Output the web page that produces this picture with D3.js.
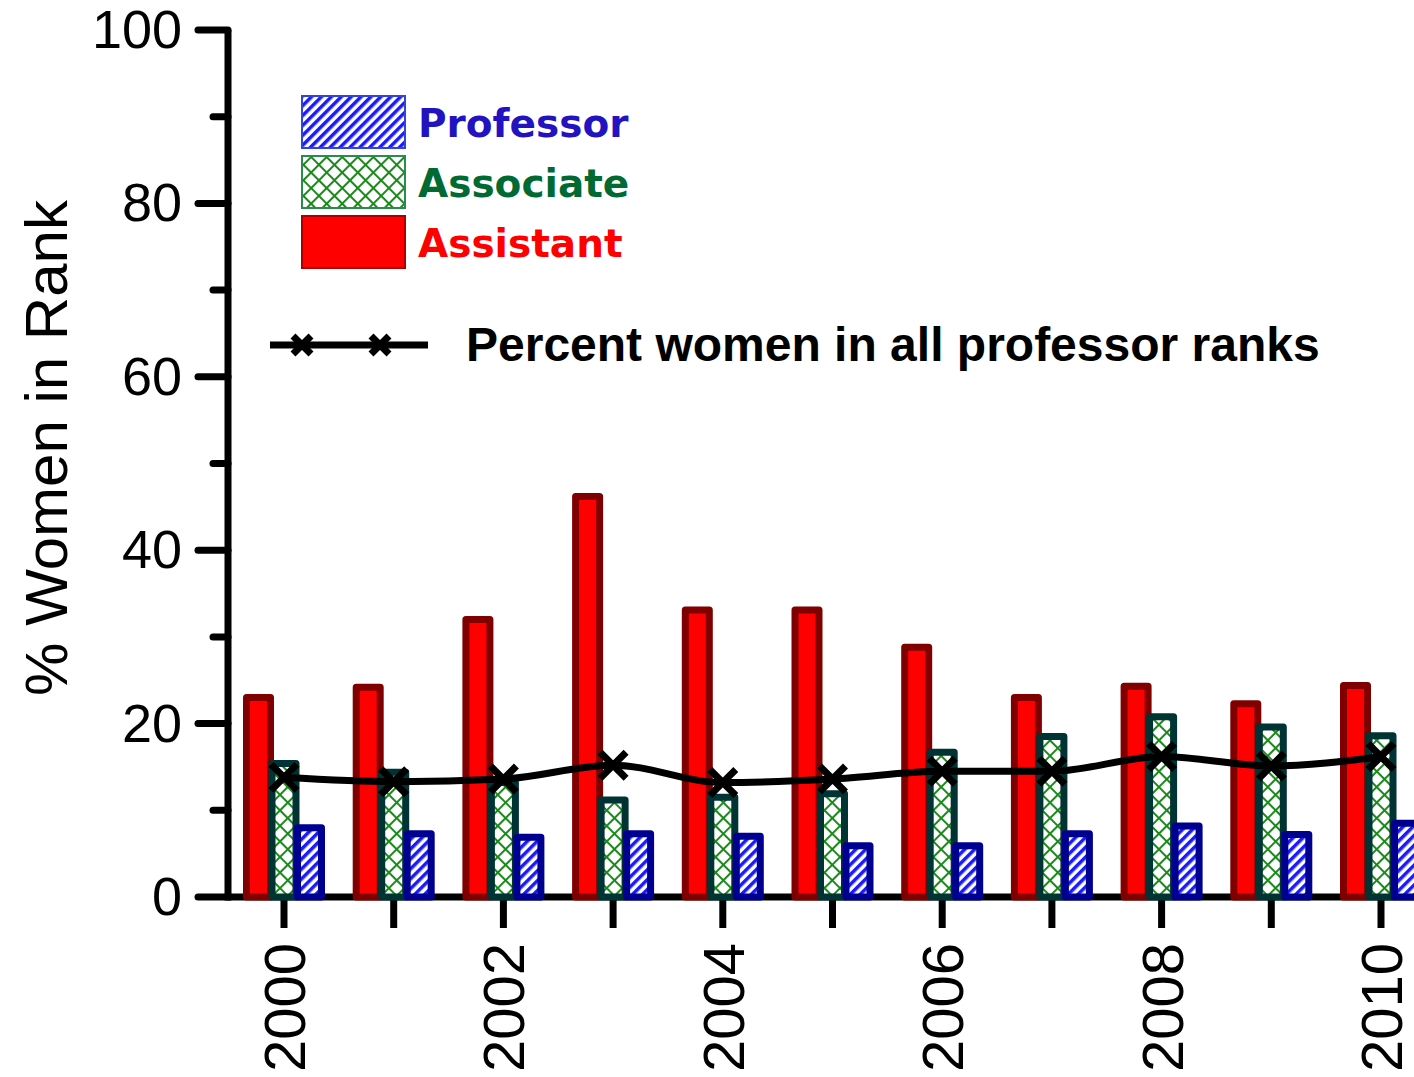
<!DOCTYPE html>
<html>
<head>
<meta charset="utf-8">
<script src="https://cdn.jsdelivr.net/npm/d3@7"></script>
<style>
  html, body { margin: 0; padding: 0; background: #fff; }
  svg { display: block; }
</style>
</head>
<body>
<svg id="chart"></svg>
<script>
// data
const years = [2000, 2001, 2002, 2003, 2004, 2005, 2006, 2007, 2008, 2009, 2010]
const assistant = [23.0, 24.2, 32.0, 46.2, 33.1, 33.1, 28.8, 23.0, 24.3, 22.3, 24.4]
const associate = [15.4, 14.4, 13.2, 11.2, 11.5, 11.9, 16.7, 18.5, 20.8, 19.6, 18.6]
const professor = [8.0, 7.3, 6.9, 7.3, 7.0, 5.9, 5.9, 7.3, 8.2, 7.2, 8.5]
const allRanks = [13.8, 13.3, 13.6, 15.2, 13.2, 13.6, 14.5, 14.5, 16.2, 15.1, 16.2]
const yTicks = [0, 20, 40, 60, 80, 100]
const yMinor = [10, 30, 50, 70, 90]
const xLabelYears = [2000, 2002, 2004, 2006, 2008, 2010]
const legendNames = ["Professor", "Associate", "Assistant"]

const width = 1414
const height = 1077

const svg = d3.select("#chart")
    .attr("width", width)
    .attr("height", height)

const x = d3.scaleLinear().domain([2000, 2010]).range([284, 1381])
const y = d3.scaleLinear().domain([0, 100]).range([897, 30])

// patterns
const defs = svg.append("defs")
const hatch = defs.append("pattern")
    .attr("id", "hatch")
    .attr("patternUnits", "userSpaceOnUse")
    .attr("width", 7).attr("height", 7)
    .attr("patternTransform", "rotate(45)")
hatch.append("rect").attr("width", 7).attr("height", 7).attr("fill", "#fff")
hatch.append("rect").attr("width", 3.5).attr("height", 7).attr("fill", "#1a1aff")

const cross = defs.append("pattern")
    .attr("id", "cross")
    .attr("patternUnits", "userSpaceOnUse")
    .attr("width", 11).attr("height", 11)
    .attr("patternTransform", "rotate(45)")
cross.append("rect").attr("width", 11).attr("height", 11).attr("fill", "#fff")
cross.append("rect").attr("width", 2).attr("height", 11).attr("fill", "#1a8a1a")
cross.append("rect").attr("width", 11).attr("height", 2).attr("fill", "#1a8a1a")

const series = [
    { name: "Assistant", values: assistant, fill: "#ff0000", stroke: "#800000", off: -25.5 },
    { name: "Associate", values: associate, fill: "url(#cross)", stroke: "#003333", off: 0 },
    { name: "Professor", values: professor, fill: "url(#hatch)", stroke: "#000090", off: 25.5 }
]
const barW = 24

// x axis line (behind bars)
svg.append("line")
    .attr("x1", x(2000) - 56).attr("x2", width + 10)
    .attr("y1", y(0)).attr("y2", y(0))
    .attr("stroke", "#000").attr("stroke-width", 7)

// x ticks
svg.append("g").selectAll("line").data(years).join("line")
    .attr("x1", d => x(d)).attr("x2", d => x(d))
    .attr("y1", y(0)).attr("y2", y(0) + 31)
    .attr("stroke", "#000").attr("stroke-width", 7)

// x labels
svg.append("g").selectAll("text").data(xLabelYears).join("text")
    .attr("transform", d => `translate(${x(d) + 21}, 943) rotate(-90)`)
    .attr("text-anchor", "end")
    .attr("font-family", "Liberation Sans, Arial, sans-serif")
    .attr("font-size", 58)
    .text(d => d)

// bars
series.forEach(s => {
    svg.append("g").selectAll("rect").data(years).join("rect")
        .attr("x", d => x(d) + s.off - barW / 2)
        .attr("width", barW)
        .attr("y", (d, i) => y(s.values[i]))
        .attr("height", (d, i) => y(0) - y(s.values[i]))
        .attr("fill", s.fill)
        .attr("stroke", s.stroke)
        .attr("stroke-width", 7)
        .attr("stroke-linejoin", "round")
})

// y axis
svg.append("line")
    .attr("x1", 228).attr("x2", 228)
    .attr("y1", y(100)).attr("y2", y(0) + 3.5)
    .attr("stroke", "#000").attr("stroke-width", 7)
svg.append("g").selectAll("line").data(yTicks).join("line")
    .attr("x1", 198).attr("x2", 228)
    .attr("y1", d => y(d)).attr("y2", d => y(d))
    .attr("stroke", "#000").attr("stroke-width", 7).attr("stroke-linecap", "round")
svg.append("g").selectAll("line").data(yMinor).join("line")
    .attr("x1", 213).attr("x2", 228)
    .attr("y1", d => y(d)).attr("y2", d => y(d))
    .attr("stroke", "#000").attr("stroke-width", 7).attr("stroke-linecap", "round")
svg.append("g").selectAll("text").data(yTicks).join("text")
    .attr("x", 182).attr("y", d => y(d) + 18)
    .attr("text-anchor", "end")
    .attr("font-family", "Liberation Sans, Arial, sans-serif")
    .attr("font-size", 54)
    .text(d => d)

// y axis title
svg.append("text")
    .attr("transform", `translate(67, 448) rotate(-90)`)
    .attr("text-anchor", "middle")
    .attr("font-family", "Liberation Sans, Arial, sans-serif")
    .attr("font-size", 60)
    .text("% Women in Rank")

// all-ranks line
const line = d3.line()
    .x((d, i) => x(years[i]))
    .y(d => y(d))
    .curve(d3.curveMonotoneX)
svg.append("path")
    .datum(allRanks)
    .attr("d", line)
    .attr("fill", "none")
    .attr("stroke", "#000")
    .attr("stroke-width", 7)

const cross_mark = (g, cx, cy, r, w) => {
    g.append("path")
        .attr("d", `M${cx - r},${cy - r}L${cx + r},${cy + r}M${cx - r},${cy + r}L${cx + r},${cy - r}`)
        .attr("stroke", "#000").attr("stroke-width", w)
}
const marks = svg.append("g")
allRanks.forEach((v, i) => cross_mark(marks, x(years[i]), y(v), 13, 7))

// legend
const legColors = ["#2212c0", "#006a33", "#ff0000"]
const legFills = ["url(#hatch)", "url(#cross)", "#ff0000"]
const legStrokes = ["#3344dd", "#2a8a50", "#aa0000"]
const leg = svg.append("g")
legendNames.forEach((n, i) => {
    leg.append("rect")
        .attr("x", 302).attr("y", 96 + i * 60)
        .attr("width", 103).attr("height", 52)
        .attr("fill", legFills[i])
        .attr("stroke", legStrokes[i]).attr("stroke-width", 2)
    leg.append("text")
        .attr("x", 418).attr("y", 137 + i * 60)
        .attr("font-family", "DejaVu Sans, Verdana, sans-serif")
        .attr("font-weight", "bold")
        .attr("font-size", 39)
        .attr("fill", legColors[i])
        .text(n)
})

leg.append("line")
    .attr("x1", 270).attr("x2", 428)
    .attr("y1", 345).attr("y2", 345)
    .attr("stroke", "#000").attr("stroke-width", 7)
cross_mark(leg, 302, 345, 9, 7)
cross_mark(leg, 380, 345, 9, 7)
leg.append("text")
    .attr("x", 466).attr("y", 361)
    .attr("font-family", "Liberation Sans, Arial, sans-serif")
    .attr("font-weight", "bold")
    .attr("font-size", 48)
    .text("Percent women in all professor ranks")
</script>
</body>
</html>
